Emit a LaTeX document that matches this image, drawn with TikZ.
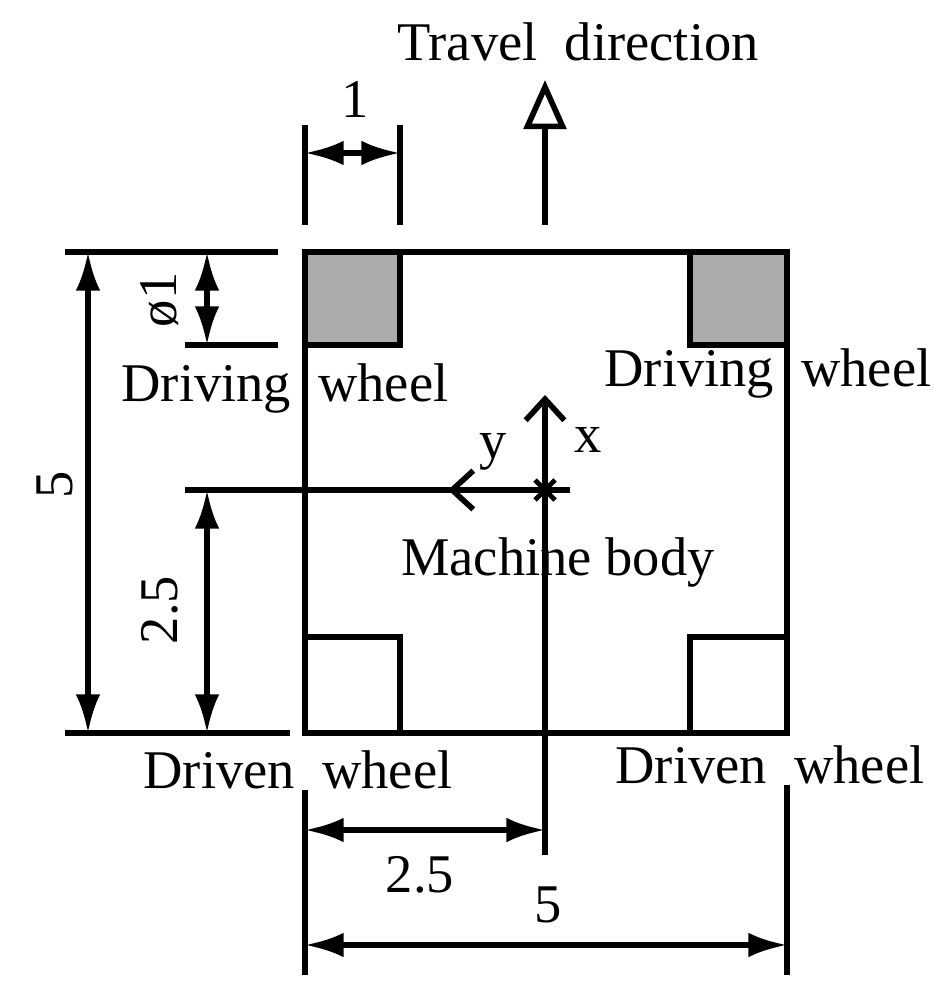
\documentclass[tikz,border=0pt]{standalone}
\usepackage{fontspec}
\setmainfont{Liberation Serif}
\usetikzlibrary{arrows.meta}
\tikzstyle{edge} = [draw,line width=1.6pt]
\tikzstyle{dim} = [edge,{Latex[length=11pt,width=7pt]}-{Latex[length=11pt,width=7pt]}]
\tikzstyle{lbl} = [inner sep=0,font=\fontsize{15.5pt}{18pt}\selectfont]
\begin{document}
\begin{tikzpicture}[x=0.01cm,y=-0.01cm]
    \useasboundingbox (0,0) rectangle (945,1001);

    % body and wheels
    \draw[edge] (305,252) rectangle (787,733);
    \draw[edge,fill=gray!65] (305,252) rectangle (400,345);
    \draw[edge,fill=gray!65] (690,252) rectangle (787,345);
    \draw[edge] (305,637) rectangle (400,733);
    \draw[edge] (690,637) rectangle (787,733);

    \coordinate (a1) at (305,125); \coordinate (a2) at (305,225);
    \coordinate (b1) at (400,125); \coordinate (b2) at (400,225);
    \coordinate (c1) at (305,153); \coordinate (c2) at (400,153);
    \draw[edge] (a1) -- (a2);
    \draw[edge] (b1) -- (b2);
    \draw[dim] (c1) -- (c2);
    \node[lbl] (one) at (355,100) {1};

    % travel direction
    \coordinate (t1) at (545,225); \coordinate (t2) at (545,80);
    \draw[edge,-{Triangle[open,length=14pt,width=12pt]}] (t1) -- (t2);
    \node[lbl] (travel) at (578,42) {Travel\ \ direction};

    % left dimensions
    \coordinate (l1) at (65,252); \coordinate (l2) at (278,252);
    \coordinate (l3) at (65,733); \coordinate (l4) at (290,733);
    \coordinate (l5) at (185,345); \coordinate (l6) at (278,345);
    \draw[edge] (l1) -- (l2);
    \draw[edge] (l3) -- (l4);
    \draw[edge] (l5) -- (l6);
    \coordinate (d1) at (88,252); \coordinate (d2) at (88,733);
    \draw[dim] (d1) -- (d2);
    \node[lbl,rotate=90] (five) at (55,485) {5};
    \coordinate (e1) at (207,252); \coordinate (e2) at (207,345);
    \draw[dim] (e1) -- (e2);
    \node[lbl,rotate=90] (phi) at (160,300) {ø1};
    \coordinate (f1) at (207,490); \coordinate (f2) at (207,733);
    \draw[dim] (f1) -- (f2);
    \node[lbl,rotate=90] (half) at (160,610) {2.5};

    % axes
    \coordinate (o) at (545,490);
    \coordinate (ox) at (545,395); \coordinate (oy) at (448,490);
    \coordinate (yl) at (185,490); \coordinate (yr) at (570,490);
    \coordinate (ob) at (545,855);
    \draw[edge] (yl) -- (yr);
    \draw[edge] (o) -- (ob);
    \draw[edge,-{Straight Barb[length=6pt,width=11pt]}] (o) -- (ox);
    \draw[edge,-{Straight Barb[length=6pt,width=11pt]}] (o) -- (oy);
    \draw[line width=1.4pt] (535,480) -- (555,500) (535,500) -- (555,480);
    \node[lbl] (xl) at (588,440) {x};
    \node[lbl] (yl2) at (493,452) {y};
    \node[lbl] (body) at (558,562) {Machine body};

    \node[lbl] (dw1) at (285,388) {Driving\ \ wheel};
    \node[lbl] (dw2) at (768,373) {Driving\ \ wheel};
    \node[lbl] (dn1) at (298,770) {Driven\ \ wheel};
    \node[lbl] (dn2) at (770,765) {Driven\ \ wheel};

    % bottom dimensions
    \coordinate (g1) at (305,790); \coordinate (g2) at (305,975);
    \coordinate (h1) at (787,785); \coordinate (h2) at (787,975);
    \draw[edge] (g1) -- (g2);
    \draw[edge] (h1) -- (h2);
    \coordinate (i1) at (305,830); \coordinate (i2) at (545,830);
    \draw[dim] (i1) -- (i2);
    \node[lbl] (half2) at (420,875) {2.5};
    \coordinate (j1) at (305,945); \coordinate (j2) at (787,945);
    \draw[dim] (j1) -- (j2);
    \node[lbl] (five2) at (548,905) {5};
\end{tikzpicture}
\end{document}
